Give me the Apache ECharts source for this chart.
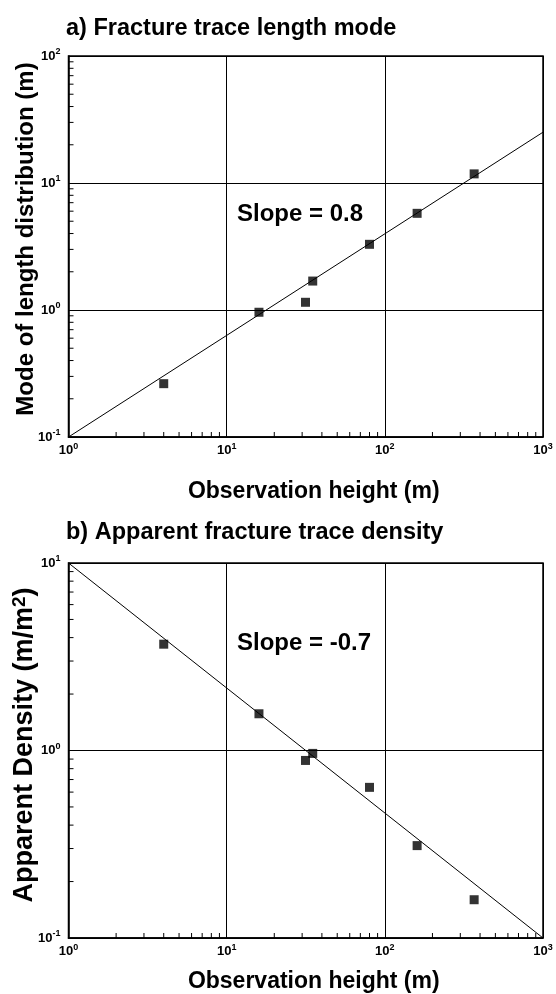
<!DOCTYPE html>
<html>
<head>
<meta charset="utf-8">
<script src="https://cdn.jsdelivr.net/npm/echarts@6/dist/echarts.min.js"></script>
<style>
  html, body { margin: 0; padding: 0; background: #fff; }
  #chart { width: 556px; height: 994px; }
</style>
</head>
<body>
<div id="chart"></div>
<script>
// Observation heights (m), shared by both panels
const heights = [4, 16, 31.5, 35, 80, 160, 367];
// a) Mode of the trace length distribution (m)
const lengthMode = [0.263, 0.96, 1.15, 1.69, 3.29, 5.77, 11.8];
// b) Apparent fracture trace density (m/m2)
const density = [3.69, 1.57, 0.885, 0.965, 0.636, 0.311, 0.16];
// Power-law fit lines, given by their end points [height, value]
const fitA = [[1, 0.1], [1000, 25.12]];
const fitB = [[1, 10], [1000, 0.1]];
// Axis ranges
const xRange = [1, 1000];
const yRangeA = [0.1, 100];
const yRangeB = [0.1, 10];
const slopeTextA = 'Slope = 0.8';
const slopeTextB = 'Slope = -0.7';

const FONT = '"Liberation Sans", Arial, Helvetica, sans-serif';

const tickRich = {
  b: { fontFamily: FONT, fontSize: 13, fontWeight: 'bold', color: '#000' },
  s: { fontFamily: FONT, fontSize: 9, fontWeight: 'bold', color: '#000', padding: [0, 0, 8, 0] }
};
function powLabel(v) {
  const e = Math.round(Math.log10(v));
  return '{b|10}{s|' + e + '}';
}

const axisNameStyle = { fontFamily: FONT, fontSize: 23, fontWeight: 'bold', color: '#000', padding: [0, 0, 0, 16] };

function xAxisCfg(gi, nameGap) {
  return {
    type: 'log', logBase: 10, gridIndex: gi, min: xRange[0], max: xRange[1],
    axisLine: { show: true, lineStyle: { color: '#000', width: 1.5 } },
    axisTick: { show: false },
    splitLine: { show: true, lineStyle: { color: '#000', width: 1 } },
    axisLabel: { formatter: powLabel, rich: tickRich, margin: 5, showMinLabel: true, showMaxLabel: true },
    name: 'Observation height (m)', nameLocation: 'middle', nameGap: nameGap,
    nameTextStyle: axisNameStyle
  };
}
function yAxisCfg(gi, range) {
  return {
    type: 'log', logBase: 10, gridIndex: gi, min: range[0], max: range[1],
    axisLine: { show: true, lineStyle: { color: '#000', width: 1.5 } },
    axisTick: { show: false },
    splitLine: { show: true, lineStyle: { color: '#000', width: 1 } },
    axisLabel: { formatter: powLabel, rich: tickRich, margin: 8, showMinLabel: true, showMaxLabel: true }
  };
}

// Minor log ticks (2..9 within each decade)
function minorValues(e0, e1) {
  const out = [];
  for (let e = e0; e < e1; e++) for (let k = 2; k <= 9; k++) out.push(k * Math.pow(10, e));
  return out;
}
function xMinorTicks(gi, yMin) {
  return {
    type: 'custom', xAxisIndex: gi, yAxisIndex: gi, silent: true, z: 4,
    data: minorValues(0, 3).map(v => [v, yMin]),
    renderItem: (params, api) => {
      const p = api.coord([api.value(0), api.value(1)]);
      return { type: 'line', shape: { x1: p[0], y1: p[1], x2: p[0], y2: p[1] - 5 },
               style: { stroke: '#000', lineWidth: 1 } };
    }
  };
}
function yMinorTicks(gi, e0, e1) {
  return {
    type: 'custom', xAxisIndex: gi, yAxisIndex: gi, silent: true, z: 4,
    data: minorValues(e0, e1).map(v => [xRange[0], v]),
    renderItem: (params, api) => {
      const p = api.coord([api.value(0), api.value(1)]);
      return { type: 'line', shape: { x1: p[0], y1: p[1], x2: p[0] + 5, y2: p[1] },
               style: { stroke: '#000', lineWidth: 1 } };
    }
  };
}

function pts(xs, ys) { return xs.map((x, i) => [x, ys[i]]); }

const boldText = (size) => 'bold ' + size + 'px ' + FONT;
const titleStyle = { fontFamily: FONT, fontSize: 23.5, fontWeight: 'bold', color: '#000' };

const option = {
  animation: false,
  backgroundColor: '#fff',
  title: [
    { text: 'a) Fracture trace length mode', left: 66, top: 17, padding: 0, textStyle: titleStyle },
    { text: 'b) Apparent fracture trace density', left: 66, top: 521, padding: 0, textStyle: titleStyle }
  ],
  grid: [
    { left: 68.5, top: 56, width: 474.5, height: 381, show: true, borderColor: '#000', borderWidth: 1.5 },
    { left: 68.5, top: 563, width: 474.5, height: 380, show: true, borderColor: '#000', borderWidth: 1.5 }
  ],
  xAxis: [xAxisCfg(0, 43), xAxisCfg(1, 32)],
  yAxis: [yAxisCfg(0, yRangeA), yAxisCfg(1, yRangeB)],
  graphic: [
    { type: 'text', x: 26, y: 239, rotation: Math.PI / 2,
      style: { text: 'Mode of length distribution (m)', font: boldText(24), fill: '#000',
               align: 'center', verticalAlign: 'middle', textAlign: 'center', textVerticalAlign: 'middle' } },
    { type: 'text', x: 25, y: 745, rotation: Math.PI / 2,
      style: { text: '{a|Apparent Density (m/m}{s|2}{a|)}', fill: '#000',
               align: 'center', verticalAlign: 'middle', textAlign: 'center', textVerticalAlign: 'middle',
               rich: {
                 a: { fontFamily: FONT, fontSize: 27, fontWeight: 'bold', color: '#000' },
                 s: { fontFamily: FONT, fontSize: 19, fontWeight: 'bold', color: '#000', padding: [0, 0, 11, 0] }
               } } },
    { type: 'text', x: 237, y: 214,
      style: { text: slopeTextA, font: boldText(24), fill: '#000',
               align: 'left', verticalAlign: 'middle', textAlign: 'left', textVerticalAlign: 'middle' } },
    { type: 'text', x: 237, y: 643,
      style: { text: slopeTextB, font: boldText(24), fill: '#000',
               align: 'left', verticalAlign: 'middle', textAlign: 'left', textVerticalAlign: 'middle' } }
  ],
  series: [
    { type: 'line', xAxisIndex: 0, yAxisIndex: 0, data: fitA, showSymbol: false, z: 3,
      lineStyle: { color: '#000', width: 1 } },
    { type: 'scatter', xAxisIndex: 0, yAxisIndex: 0, data: pts(heights, lengthMode),
      symbol: 'rect', symbolSize: 9, itemStyle: { color: '#000' }, z: 5 },
    { type: 'line', xAxisIndex: 1, yAxisIndex: 1, data: fitB, showSymbol: false, z: 3,
      lineStyle: { color: '#000', width: 1 } },
    { type: 'scatter', xAxisIndex: 1, yAxisIndex: 1, data: pts(heights, density),
      symbol: 'rect', symbolSize: 9, itemStyle: { color: '#000' }, z: 5 },
    xMinorTicks(0, yRangeA[0]),
    yMinorTicks(0, -1, 2),
    xMinorTicks(1, yRangeB[0]),
    yMinorTicks(1, -1, 1)
  ]
};

const chart = echarts.init(document.getElementById('chart'), null, { renderer: 'canvas' });
chart.setOption(option);
</script>
</body>
</html>
